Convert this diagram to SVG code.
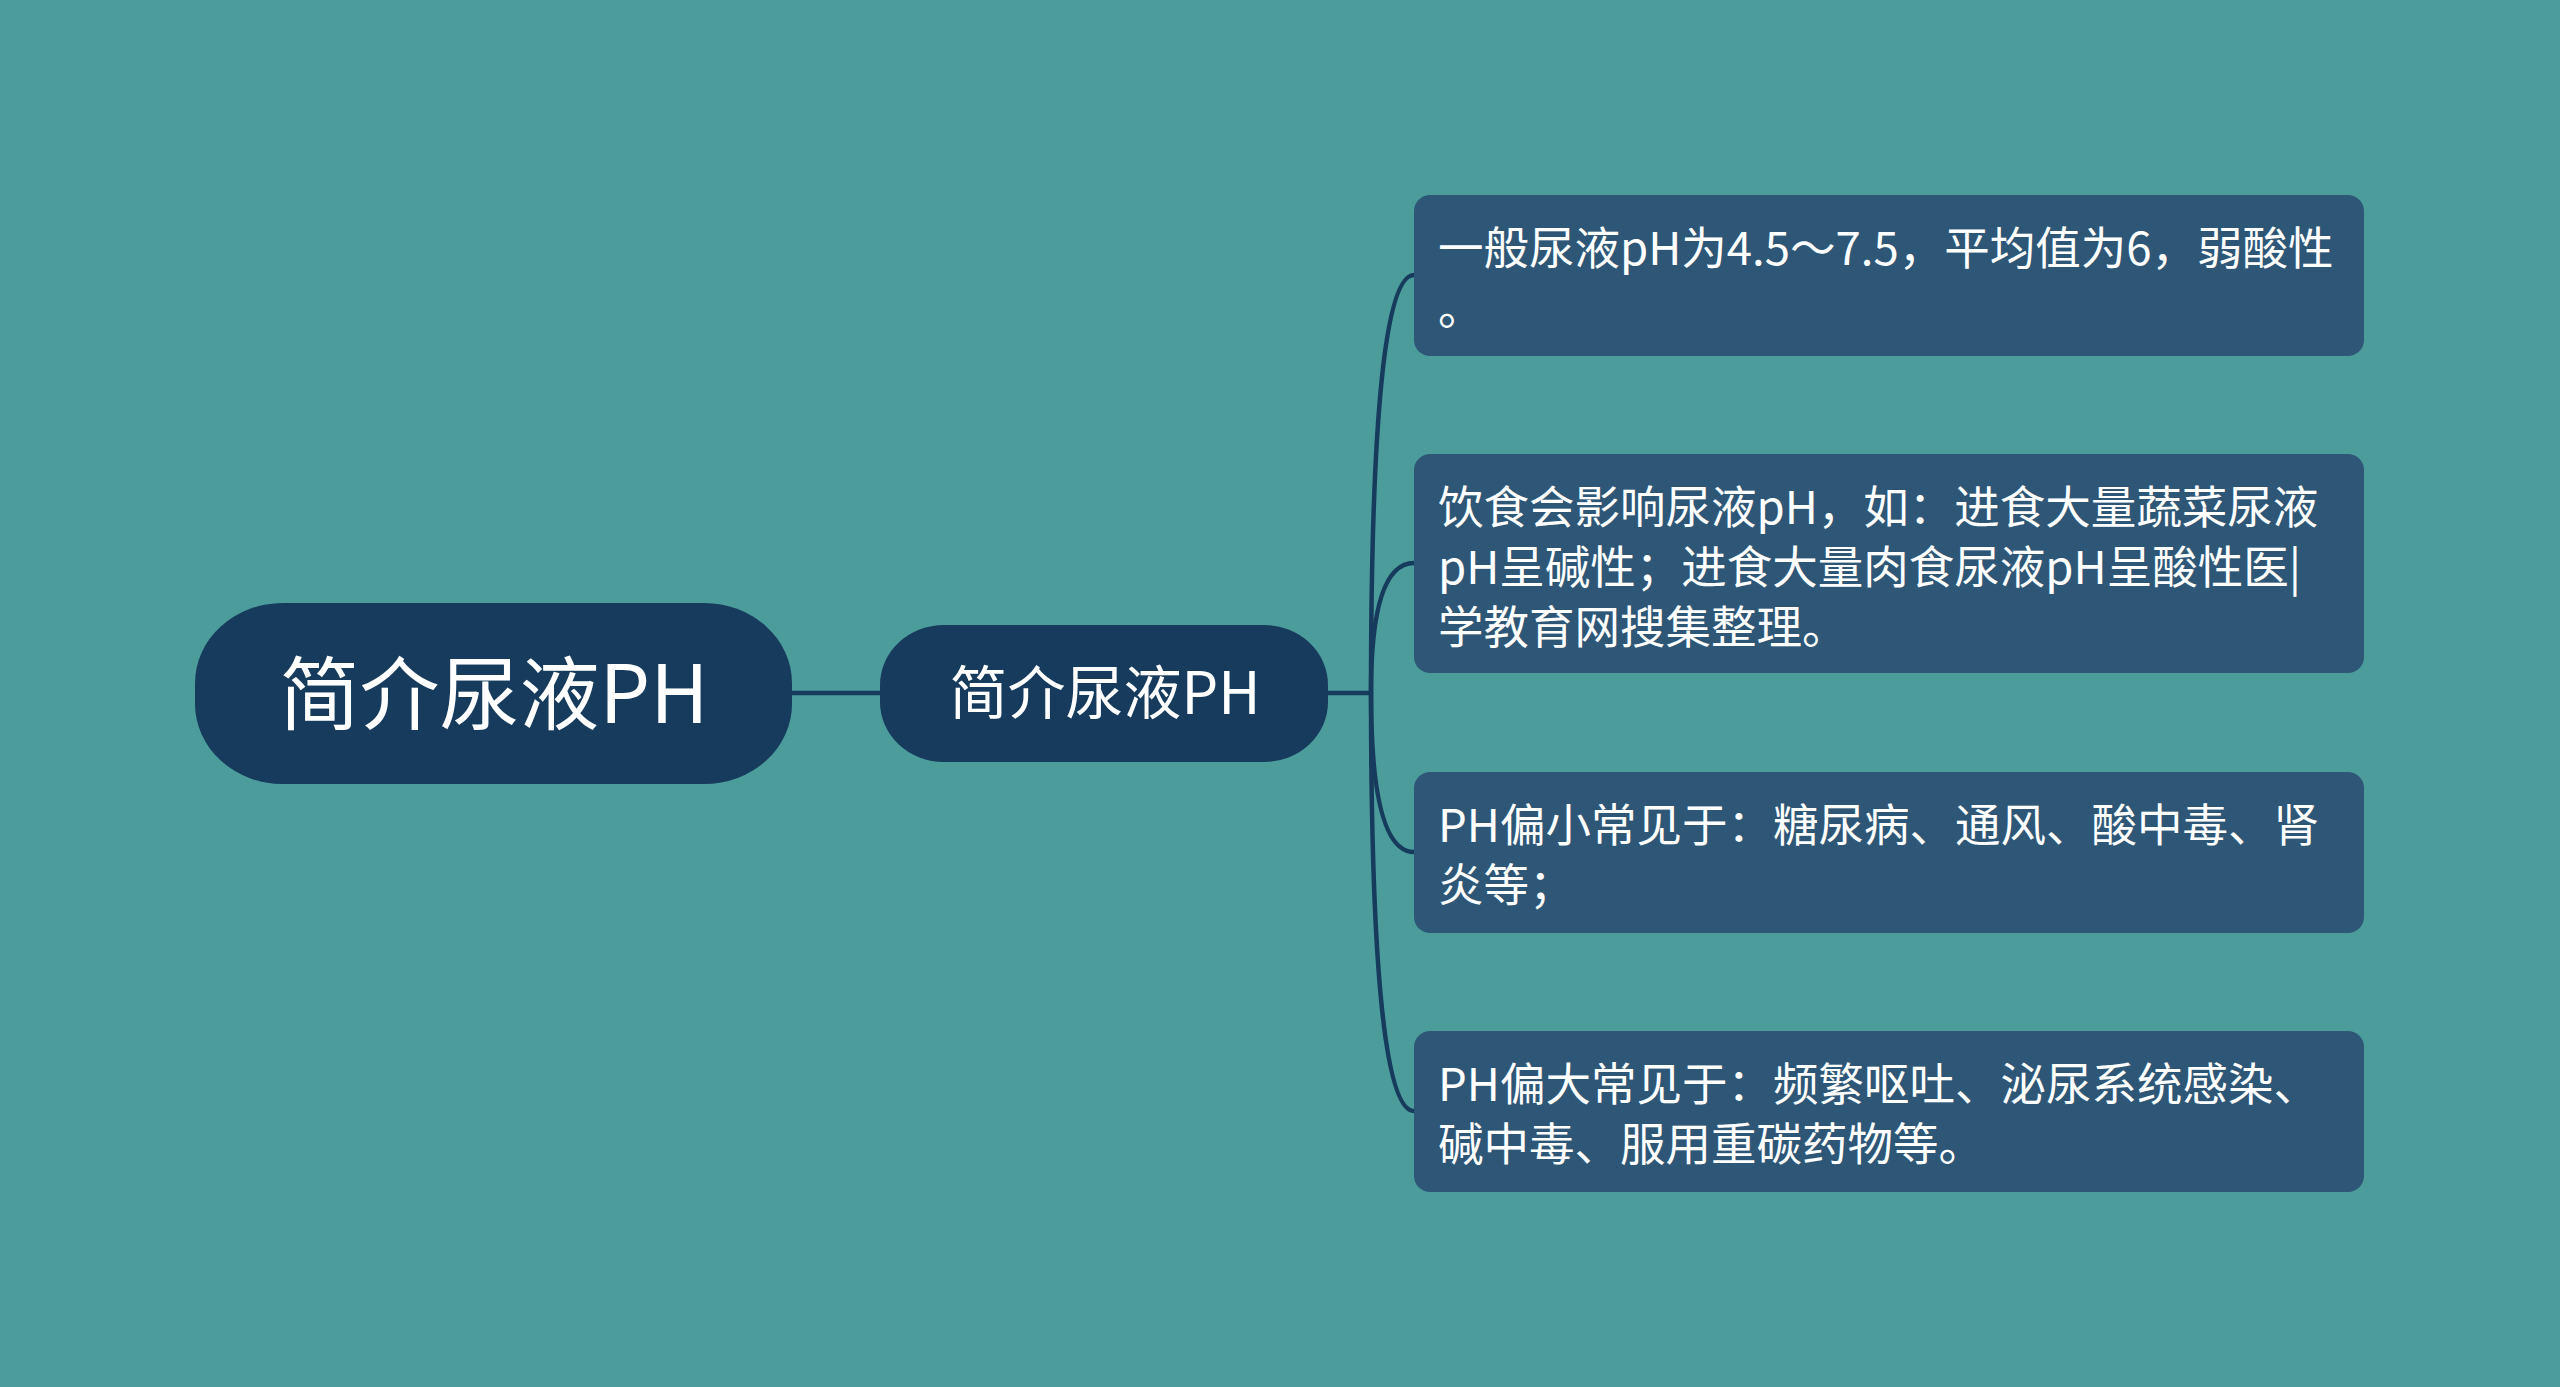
<svg xmlns="http://www.w3.org/2000/svg" width="2560" height="1387" viewBox="0 0 2560 1387">
<style>
.bg{fill:#4C9C9C}
.main{fill:#163B5C}
.leaf{fill:#2E5777}
.conn{fill:none;stroke:#163B5C;stroke-width:4.5;stroke-linecap:round}
text{font-family:"Noto Sans CJK SC","Noto Sans",sans-serif;fill:#FFFFFF}
.t0{font-size:80px}
.t1{font-size:58px}
.t2{font-size:45.5px}
</style>
<rect class="bg" x="0" y="0" width="2560" height="1387"/>
<g id="connectors">
<path class="conn" d="M792 693 L880 693"/>
<path class="conn" d="M1328 693 L1371 693"/>
<path class="conn" d="M1371 693 Q1371 275 1414 275"/>
<path class="conn" d="M1371 693 Q1371 563 1414 563"/>
<path class="conn" d="M1371 693 Q1371 852 1414 852"/>
<path class="conn" d="M1371 693 Q1371 1111 1414 1111"/>
</g>
<g id="root">
<rect class="main" x="195" y="603" width="597" height="181" rx="88" ry="80"/>
<text class="t0" x="494" y="723" text-anchor="middle">简介尿液PH</text>
</g>
<g id="sub">
<rect class="main" x="880" y="625" width="448" height="137" rx="64" ry="60"/>
<text class="t1" x="1105" y="714" text-anchor="middle">简介尿液PH</text>
</g>
<g id="leaf1">
<rect class="leaf" x="1414" y="195" width="950" height="161" rx="16"/>
<text class="t2"><tspan x="1438" y="265">一般尿液pH为4.5～7.5，平均值为6，弱酸性</tspan><tspan x="1438" y="325">。</tspan></text>
</g>
<g id="leaf2">
<rect class="leaf" x="1414" y="454" width="950" height="219" rx="16"/>
<text class="t2"><tspan x="1438" y="524">饮食会影响尿液pH，如：进食大量蔬菜尿液</tspan><tspan x="1438" y="584">pH呈碱性；进食大量肉食尿液pH呈酸性医|</tspan><tspan x="1438" y="644">学教育网搜集整理。</tspan></text>
</g>
<g id="leaf3">
<rect class="leaf" x="1414" y="772" width="950" height="161" rx="16"/>
<text class="t2"><tspan x="1438" y="842">PH偏小常见于：糖尿病、通风、酸中毒、肾</tspan><tspan x="1438" y="902">炎等；</tspan></text>
</g>
<g id="leaf4">
<rect class="leaf" x="1414" y="1031" width="950" height="161" rx="16"/>
<text class="t2"><tspan x="1438" y="1101">PH偏大常见于：频繁呕吐、泌尿系统感染、</tspan><tspan x="1438" y="1161">碱中毒、服用重碳药物等。</tspan></text>
</g>
</svg>
